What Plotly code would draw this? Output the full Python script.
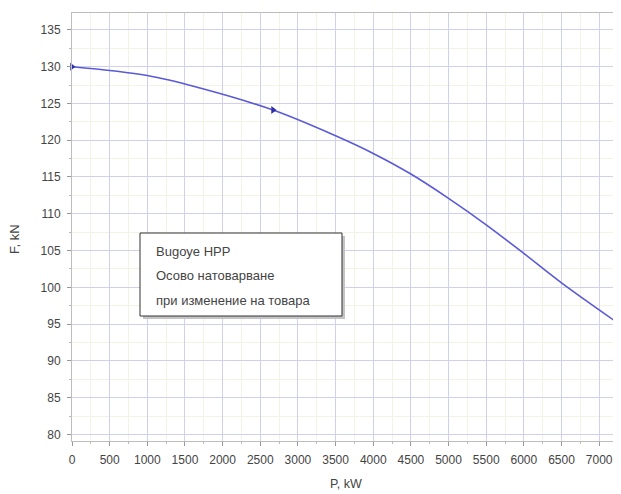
import plotly.graph_objects as go

# marked operating points
power_kw = [0, 2670, 7240]
force_kn = [130, 124.1, 95.2]
# curve
curve_p = [0, 1000, 1700, 2670, 3500, 4000, 4500, 5000, 5500, 6000, 6500, 7240]
curve_f = [130, 128.8, 127.1, 124.1, 120.6, 118.2, 115.4, 112.1, 108.5, 104.6, 100.6, 95.2]
x_ticks = [0, 500, 1000, 1500, 2000, 2500, 3000, 3500, 4000, 4500, 5000, 5500, 6000, 6500, 7000]
y_ticks = [80, 85, 90, 95, 100, 105, 110, 115, 120, 125, 130, 135]
note_lines = ["Bugoye HPP", "Осово натоварване", "при изменение на товара"]
x_title = "P, kW"
y_title = "F, kN"

FONT = "Liberation Sans, Arial"
TXT = "#444444"

# plot area in window pixels
PL, PR, PT, PB = 72, 621, 13, 441
W, H = PR - PL, PB - PT


def px(x):
    return (x - PL) / W


def py(y):
    return (PB - y) / H


fig = go.Figure()
fig.add_trace(go.Scatter(
    x=curve_p, y=curve_f, mode="lines",
    line=dict(color="#5a5ad6", width=1.6, shape="spline", smoothing=1.0),
    showlegend=False, hoverinfo="skip",
))
fig.add_trace(go.Scatter(
    x=power_kw, y=force_kn, mode="markers",
    marker=dict(symbol="triangle-right", size=7, color="#2f2fa8"),
    showlegend=False, hoverinfo="skip", cliponaxis=False,
))

axis_common = dict(
    showgrid=True, gridcolor="#cfcfee", gridwidth=1,
    showline=True, linecolor="#bdbdbd", linewidth=1, mirror=True,
    ticks="outside", ticklen=4, tickcolor="#999999",
    tickfont=dict(family=FONT, size=12, color=TXT),
    zeroline=False, automargin=False, ticklabelstandoff=4,
)

fig.update_xaxes(
    range=[0, 7290], tickvals=x_ticks, ticktext=[str(v) for v in x_ticks],
    minor=dict(dtick=250, showgrid=True, gridcolor="#f3f3e4", ticks="outside", ticklen=2, tickcolor="#bbbbbb"),
    **axis_common,
)
fig.update_yaxes(
    range=[79.1, 137.3], tickvals=y_ticks, ticktext=[str(v) for v in y_ticks],
    minor=dict(dtick=2.5, showgrid=True, gridcolor="#f3f3e4", ticks="outside", ticklen=2, tickcolor="#bbbbbb"),
    **axis_common,
)

# axis titles
fig.add_annotation(xref="paper", yref="paper", x=px(346), y=py(484), text=x_title,
                   showarrow=False, xanchor="center", yanchor="middle",
                   font=dict(family=FONT, size=12.5, color=TXT))
fig.add_annotation(xref="paper", yref="paper", x=px(14), y=py(239), text=y_title,
                   showarrow=False, xanchor="center", yanchor="middle", textangle=-90,
                   font=dict(family=FONT, size=13, color=TXT))

# shadow + box for the note
fig.add_shape(type="rect", xref="paper", yref="paper",
              x0=px(143), x1=px(345), y0=py(319), y1=py(236),
              fillcolor="#c4c4c4", line=dict(width=0), layer="above")
fig.add_shape(type="rect", xref="paper", yref="paper",
              x0=px(140), x1=px(342), y0=py(316), y1=py(233),
              fillcolor="white", line=dict(color="#333333", width=1), layer="above")
for i, t in enumerate(note_lines):
    fig.add_annotation(xref="paper", yref="paper",
                       x=px(154), y=py(252 + i * 24),
                       xanchor="left", yanchor="middle", text=t, showarrow=False,
                       font=dict(family=FONT, size=13, color=TXT))

# the page body adds an 8px offset, so the figure is sized to fit the window
OFF = 8
fig.update_layout(
    width=621 - OFF, height=494 - OFF,
    margin=dict(l=PL - OFF, r=621 - PR, t=PT - OFF, b=494 - PB, autoexpand=False),
    paper_bgcolor="white", plot_bgcolor="white",
)
fig.write_html("out.html")
